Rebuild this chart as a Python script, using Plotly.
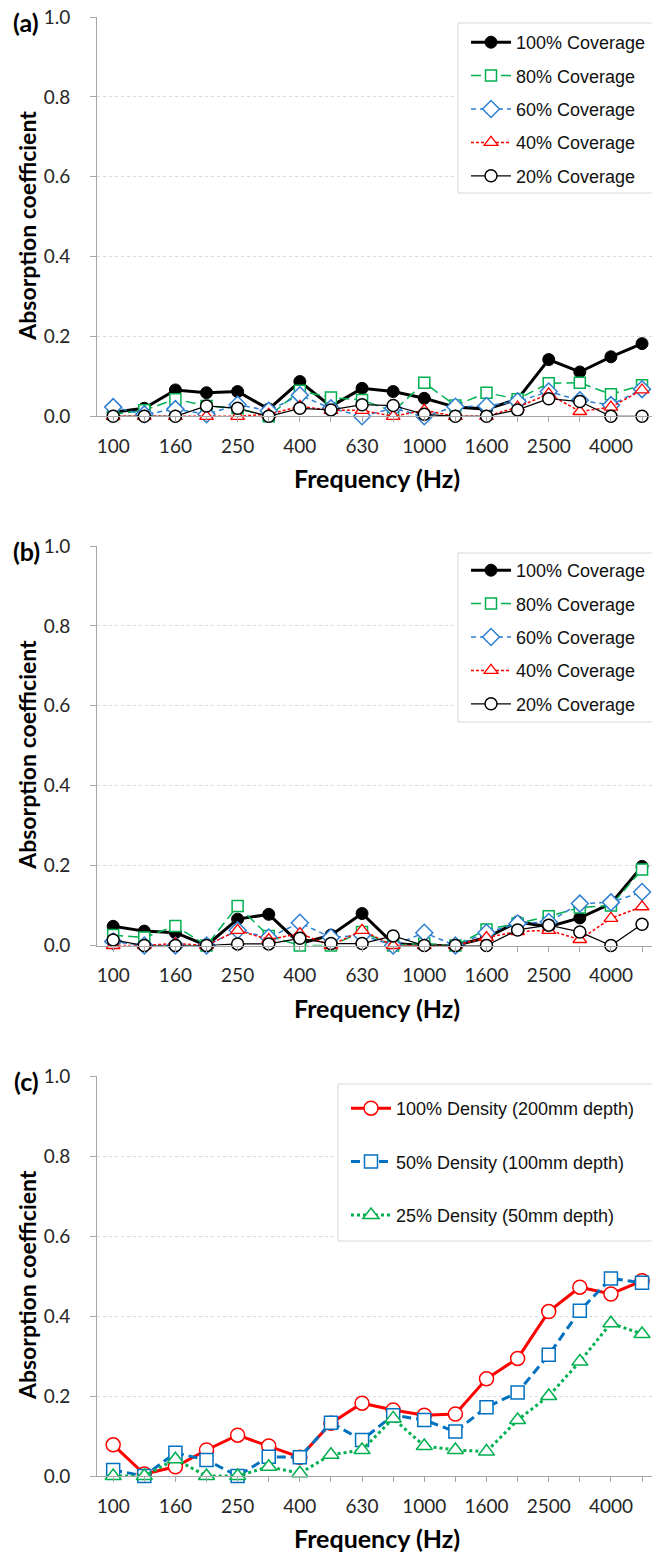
import plotly.graph_objects as go

# One-third octave band centre frequencies (Hz)
FREQ = ["100", "125", "160", "200", "250", "315", "400", "500", "630",
        "800", "1000", "1250", "1600", "2000", "2500", "3150", "4000", "5000"]
TICKTEXT = [f if i % 2 == 0 else "" for i, f in enumerate(FREQ)]

# (a) coverage series
a_cov100 = [0.010, 0.020, 0.066, 0.059, 0.062, 0.018, 0.087, 0.025, 0.070,
            0.062, 0.045, 0.023, 0.018, 0.043, 0.142, 0.111, 0.149, 0.182]
a_cov80 = [0.005, 0.015, 0.043, 0.026, 0.020, 0.000, 0.064, 0.047, 0.041,
           0.012, 0.084, 0.027, 0.059, 0.043, 0.083, 0.084, 0.055, 0.078]
a_cov60 = [0.023, 0.005, 0.018, 0.005, 0.029, 0.014, 0.053, 0.020, 0.000,
           0.020, 0.000, 0.024, 0.026, 0.037, 0.062, 0.040, 0.028, 0.068]
a_cov40 = [0.000, 0.000, 0.000, 0.000, 0.000, 0.005, 0.025, 0.015, 0.015,
           0.000, 0.015, 0.000, 0.000, 0.023, 0.056, 0.012, 0.023, 0.066]
a_cov20 = [0.000, 0.000, 0.000, 0.026, 0.020, 0.000, 0.020, 0.016, 0.029,
           0.027, 0.005, 0.000, 0.000, 0.016, 0.044, 0.037, 0.000, 0.000]

# (b) coverage series
b_cov100 = [0.048, 0.036, 0.032, 0.000, 0.066, 0.078, 0.005, 0.026, 0.080,
            0.005, 0.000, 0.000, 0.020, 0.059, 0.047, 0.069, 0.105, 0.198]
b_cov80 = [0.026, 0.020, 0.049, 0.000, 0.099, 0.024, 0.000, 0.000, 0.034,
           0.000, 0.005, 0.000, 0.040, 0.055, 0.073, 0.095, 0.100, 0.190]
b_cov60 = [0.010, 0.000, 0.000, 0.000, 0.038, 0.020, 0.057, 0.020, 0.026,
           0.000, 0.032, 0.000, 0.032, 0.055, 0.059, 0.105, 0.108, 0.134]
b_cov40 = [0.000, 0.000, 0.005, 0.000, 0.038, 0.015, 0.030, 0.000, 0.038,
           0.000, 0.000, 0.000, 0.020, 0.035, 0.038, 0.015, 0.068, 0.097]
b_cov20 = [0.014, 0.000, 0.000, 0.000, 0.004, 0.004, 0.018, 0.005, 0.005,
           0.024, 0.000, 0.000, 0.000, 0.039, 0.051, 0.034, 0.000, 0.053]

# (c) density series
c_den100 = [0.078, 0.005, 0.023, 0.065, 0.102, 0.075, 0.047, 0.132, 0.182,
            0.165, 0.152, 0.155, 0.243, 0.294, 0.411, 0.472, 0.455, 0.488]
c_den50 = [0.015, 0.000, 0.058, 0.040, 0.000, 0.048, 0.047, 0.133, 0.090,
           0.152, 0.140, 0.111, 0.172, 0.209, 0.303, 0.413, 0.494, 0.483]
c_den25 = [0.000, 0.000, 0.042, 0.000, 0.000, 0.023, 0.007, 0.053, 0.065,
           0.144, 0.075, 0.065, 0.061, 0.140, 0.200, 0.286, 0.382, 0.355]

COV_NAMES = ["100% Coverage", "80% Coverage", "60% Coverage", "40% Coverage", "20% Coverage"]
DEN_NAMES = ["100% Density (200mm depth)", "50% Density (100mm depth)", "25% Density (50mm depth)"]

W, H = 652, 1553


def fx(p):
    return p / W


def fy(p):
    return 1 - p / H


GREEN = "#00b050"
BLUE = "#2e7fd2"
RED = "#ff0000"

cov_styles = [
    (dict(color="black", width=3),
     dict(symbol="circle", size=12, color="black", line=dict(color="black", width=1))),
    (dict(color=GREEN, width=1.5, dash="10px,5px"),
     dict(symbol="square", size=11, color="white", line=dict(color=GREEN, width=1.5))),
    (dict(color=BLUE, width=1.5, dash="5px,4px"),
     dict(symbol="diamond", size=13, color="white", line=dict(color=BLUE, width=1.5))),
    (dict(color=RED, width=1.5, dash="3px,2px"),
     dict(symbol="triangle-up", size=12, color="white", line=dict(color=RED, width=1.3))),
    (dict(color="black", width=1.25),
     dict(symbol="circle", size=12, color="white", line=dict(color="black", width=1.5))),
]

den_styles = [
    (dict(color=RED, width=3),
     dict(symbol="circle", size=14, color="white", line=dict(color=RED, width=1.5))),
    (dict(color="#0070c0", width=3, dash="9px,5px"),
     dict(symbol="square", size=13, color="white", line=dict(color="#0070c0", width=1.5))),
    (dict(color=GREEN, width=3, dash="dot"),
     dict(symbol="triangle-up", size=14, color="white", line=dict(color=GREEN, width=1.5))),
]

fig = go.Figure()

panels = [
    ("x", "y", "legend", [a_cov100, a_cov80, a_cov60, a_cov40, a_cov20], COV_NAMES, cov_styles),
    ("x2", "y2", "legend2", [b_cov100, b_cov80, b_cov60, b_cov40, b_cov20], COV_NAMES, cov_styles),
    ("x3", "y3", "legend3", [c_den100, c_den50, c_den25], DEN_NAMES, den_styles),
]

for p, (xa, ya, leg, series, names, styles) in enumerate(panels):
    for k, (vals, name, (ln, mk)) in enumerate(zip(series, names, styles)):
        fig.add_trace(go.Scatter(
            x=FREQ, y=vals, name=name, mode="lines+markers",
            line=ln, marker=mk, xaxis=xa, yaxis=ya, legend=leg,
            legendgroup=f"p{p}s{k}", cliponaxis=False,
        ))

# plot-area pixel extents: (y of 0.0, y of 1.0)
areas = [(416.3, 17.0), (945.5, 546.0), (1476.0, 1076.0)]

TICK_FONT = dict(family="Lato", size=19, color="#262626")
AX_GRAY = "#a6a6a6"

layout = dict(
    width=W, height=H,
    margin=dict(l=0, r=0, t=0, b=0, autoexpand=False),
    paper_bgcolor="white", plot_bgcolor="white",
    showlegend=True,
)

for i, (zero, top) in enumerate(areas):
    sfx = "" if i == 0 else str(i + 1)
    layout["xaxis" + sfx] = dict(
        domain=[fx(97), 1.0], anchor="y" + sfx, type="category",
        range=[-0.52, 17.32], tickmode="array", tickvals=FREQ, ticktext=TICKTEXT,
        ticks="outside", ticklen=5, tickcolor=AX_GRAY, showline=True,
        linecolor=AX_GRAY, linewidth=1, showgrid=False, tickfont=TICK_FONT,
        ticklabelstandoff=8, fixedrange=True,
    )
    layout["yaxis" + sfx] = dict(
        domain=[fy(zero), fy(top)], anchor="x" + sfx, range=[0, 1],
        tick0=0, dtick=0.2, tickformat=".1f", ticks="outside", ticklen=6,
        tickcolor=AX_GRAY, showline=True, linecolor=AX_GRAY, linewidth=1,
        showgrid=True, gridcolor="#d9d9d9", griddash="dot", gridwidth=1,
        zeroline=False, tickfont=TICK_FONT, ticklabelstandoff=16, fixedrange=True,
    )

# legend frames: (left, top, bottom) in pixels; they run past the right edge
frames = [(458, 23, 193), (458, 553, 722), (338, 1084, 1241)]
layout["shapes"] = [
    dict(type="rect", xref="paper", yref="paper", x0=fx(l), x1=fx(700),
         y0=fy(b), y1=fy(t), fillcolor="white", layer="above",
         line=dict(color="#d9d9d9", width=1))
    for (l, t, b) in frames
]

LEG_FONT = dict(family="Liberation Sans", size=18, color="#111111")
leg_common = dict(xanchor="left", yanchor="top", bgcolor="rgba(0,0,0,0)",
                  borderwidth=0, font=LEG_FONT, itemwidth=40)
layout["legend"] = dict(x=fx(466), y=fy(24), tracegroupgap=7, **leg_common)
layout["legend2"] = dict(x=fx(466), y=fy(552), tracegroupgap=7, **leg_common)
layout["legend3"] = dict(x=fx(346), y=fy(1090), tracegroupgap=27, **leg_common)

TITLE_FONT = dict(family="Lato", size=23, color="black", weight="bold")
XTITLE_FONT = dict(family="Lato", size=25, color="black", weight="bold")
annotations = []
for i, (zero, top) in enumerate(areas):
    mid = (zero + top) / 2 + 9
    annotations.append(dict(text="Absorption coefficient", x=fx(27), y=fy(mid),
                            xref="paper", yref="paper", textangle=-90,
                            showarrow=False, font=TITLE_FONT,
                            xanchor="center", yanchor="middle"))
    annotations.append(dict(text="Frequency (Hz)", x=fx(377), y=fy(zero + 62),
                            xref="paper", yref="paper", showarrow=False,
                            font=XTITLE_FONT, xanchor="center", yanchor="middle"))
    annotations.append(dict(text="(" + "abc"[i] + ")", x=fx(26), y=fy(top + 5),
                            xref="paper", yref="paper", showarrow=False,
                            font=dict(family="Lato", size=25, color="black", weight="bold"),
                            xanchor="center", yanchor="middle"))
layout["annotations"] = annotations

fig.update_layout(layout)
fig.write_html("out.html")
